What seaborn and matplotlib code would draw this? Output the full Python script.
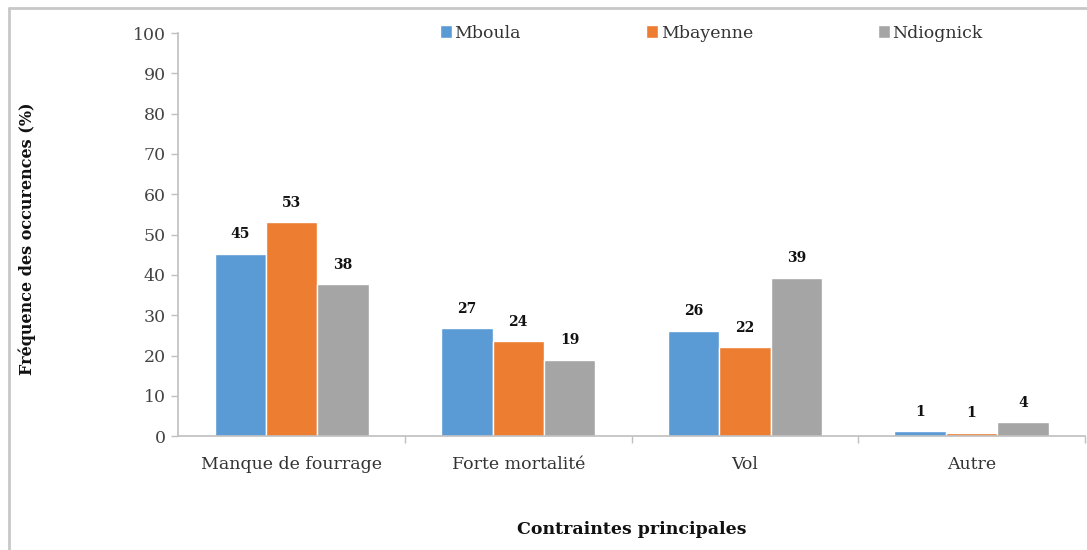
import matplotlib
matplotlib.use("Agg")
import matplotlib.pyplot as plt
import seaborn as sns
import pandas as pd
from matplotlib.ticker import FixedLocator
from matplotlib.lines import Line2D

categories = ["Manque de fourrage", "Forte mortalité", "Vol", "Autre"]
series_names = ["Mboula", "Mbayenne", "Ndiognick"]
mboula = [45.3, 26.8, 26.2, 1.2]
mbayenne = [53.1, 23.6, 22.1, 0.8]
ndiognick = [37.7, 18.9, 39.3, 3.5]
mboula_labels = ["45", "27", "26", "1"]
mbayenne_labels = ["53", "24", "22", "1"]
ndiognick_labels = ["38", "19", "39", "4"]
colors = ["#5B9BD5", "#ED7D31", "#A5A5A5"]
y_ticks = [0, 10, 20, 30, 40, 50, 60, 70, 80, 90, 100]

sns.set_theme(style="white")
plt.rcParams["font.family"] = ["DejaVu Serif"]

rows = []
for name, vals in zip(series_names, [mboula, mbayenne, ndiognick]):
    for c, v in zip(categories, vals):
        rows.append({"Contrainte": c, "Site": name, "Valeur": v})
df = pd.DataFrame(rows)

fig = plt.figure(figsize=(10.87, 5.5), dpi=100)
ax = fig.add_axes([0.164, 0.207, 0.834, 0.733])

# outer frame lines (left and top), as in the reference
fig.add_artist(Line2D([9 / 1087, 9 / 1087], [0, 1 - 8 / 550], transform=fig.transFigure,
                      color="#c8c8c8", lw=2))
fig.add_artist(Line2D([9 / 1087, 1], [1 - 8 / 550, 1 - 8 / 550], transform=fig.transFigure,
                      color="#c8c8c8", lw=2))

sns.barplot(data=df, x="Contrainte", y="Valeur", hue="Site", order=categories,
            hue_order=series_names, palette=colors, width=0.68, gap=0,
            saturation=1, ax=ax, legend=True, errorbar=None)

for cont, labs in zip(ax.containers, [mboula_labels, mbayenne_labels, ndiognick_labels]):
    ax.bar_label(cont, labels=labs, padding=9, fontsize=10, fontweight="bold", color="#111111")

ax.set_ylim(0, 100)
ax.set_xlim(-0.5, 3.5)
ax.set_yticks(y_ticks)
ax.tick_params(axis="y", labelsize=12.5, labelcolor="#444444", length=5, width=1, color="#bfbfbf", left=True, pad=4)
ax.tick_params(axis="x", which="major", length=0, labelsize=12.5, labelcolor="#333333", pad=14)
ax.xaxis.set_minor_locator(FixedLocator([0.5, 1.5, 2.5, 3.5]))
ax.tick_params(axis="x", which="minor", length=5, width=1, color="#bfbfbf", bottom=True)

for s in ["top", "right"]:
    ax.spines[s].set_visible(False)
for s in ["left", "bottom"]:
    ax.spines[s].set_color("#bfbfbf")
    ax.spines[s].set_linewidth(1.2)

ax.set_xlabel("Contraintes principales", fontsize=12.5, fontweight="bold", color="#111111")
ax.set_ylabel("Fréquence des occurences (%)", fontsize=11.5, fontweight="bold", color="#111111")
ax.xaxis.set_label_coords(0.5, -0.21)
ax.yaxis.set_label_coords(-0.157, 0.49)

ax.legend(loc="center", bbox_to_anchor=(0.588, 1.0), ncol=3, frameon=False,
          fontsize=12.5, handlelength=0.7, handleheight=0.7, handletextpad=0.15,
          columnspacing=7.2, labelcolor="#333333")

fig.savefig("out.png", dpi=100)
